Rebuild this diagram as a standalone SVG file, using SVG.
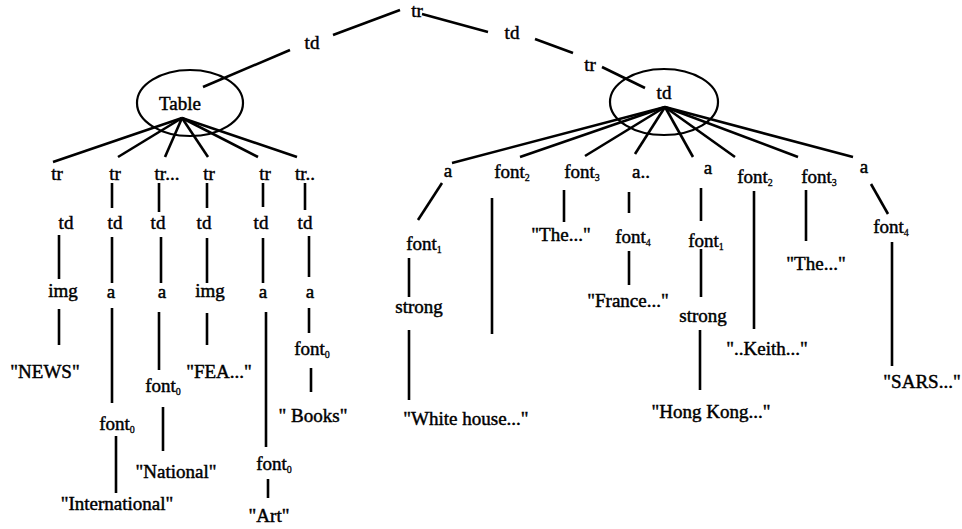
<svg xmlns="http://www.w3.org/2000/svg" width="962" height="529" viewBox="0 0 962 529">
<style>
text{font-family:'Liberation Serif','Times New Roman',serif;font-size:19px;fill:#000;text-anchor:middle;stroke:#000;stroke-width:0.45}
.sub{font-size:10px;stroke-width:0.3}
.e{fill:none;stroke:#000;stroke-width:2.2}
#edges line{stroke:#000;stroke-width:2.6;stroke-linecap:butt}
</style>
<rect width="962" height="529" fill="#fff"/>
<g id="edges">
<line x1="333" y1="35" x2="400" y2="10"/>
<line x1="422" y1="14" x2="488" y2="32"/>
<line x1="290" y1="50" x2="203" y2="87"/>
<line x1="535" y1="39" x2="573" y2="53"/>
<line x1="602" y1="67" x2="645" y2="88"/>
<line x1="182" y1="118" x2="53" y2="162"/>
<line x1="182" y1="118" x2="118" y2="157"/>
<line x1="182" y1="118" x2="165" y2="157"/>
<line x1="182" y1="118" x2="208" y2="157"/>
<line x1="182" y1="118" x2="258" y2="157"/>
<line x1="182" y1="118" x2="297" y2="157"/>
<line x1="112" y1="183" x2="112" y2="208"/>
<line x1="159" y1="183" x2="159" y2="212"/>
<line x1="207" y1="183" x2="207" y2="208"/>
<line x1="263" y1="183" x2="263" y2="207"/>
<line x1="305" y1="183" x2="305" y2="210"/>
<line x1="59" y1="235" x2="59" y2="279"/>
<line x1="112" y1="237" x2="112" y2="283"/>
<line x1="161" y1="237" x2="161" y2="283"/>
<line x1="207" y1="238" x2="207" y2="283"/>
<line x1="263" y1="238" x2="263" y2="283"/>
<line x1="309" y1="236" x2="309" y2="277"/>
<line x1="59" y1="309" x2="59" y2="345"/>
<line x1="112" y1="308" x2="112" y2="403"/>
<line x1="159" y1="312" x2="159" y2="370"/>
<line x1="207" y1="313" x2="207" y2="345"/>
<line x1="266" y1="312" x2="266" y2="447"/>
<line x1="309" y1="308" x2="309" y2="333"/>
<line x1="311" y1="368" x2="311" y2="392"/>
<line x1="163" y1="407" x2="163" y2="451"/>
<line x1="116" y1="436" x2="116" y2="493"/>
<line x1="268" y1="479" x2="268" y2="498"/>
<line x1="665" y1="107" x2="452" y2="163"/>
<line x1="665" y1="107" x2="520" y2="157"/>
<line x1="665" y1="107" x2="585" y2="156"/>
<line x1="665" y1="107" x2="635" y2="154"/>
<line x1="665" y1="107" x2="693" y2="157"/>
<line x1="665" y1="107" x2="735" y2="157"/>
<line x1="665" y1="107" x2="798" y2="157"/>
<line x1="665" y1="107" x2="853" y2="157"/>
<line x1="442" y1="183" x2="418" y2="220"/>
<line x1="409" y1="258" x2="409" y2="297"/>
<line x1="409" y1="330" x2="409" y2="400"/>
<line x1="492" y1="198" x2="492" y2="334"/>
<line x1="564" y1="190" x2="564" y2="222"/>
<line x1="629" y1="192" x2="629" y2="213"/>
<line x1="629" y1="251" x2="629" y2="285"/>
<line x1="701" y1="188" x2="701" y2="221"/>
<line x1="701" y1="249" x2="701" y2="297"/>
<line x1="700" y1="330" x2="700" y2="390"/>
<line x1="754" y1="191" x2="754" y2="329"/>
<line x1="806" y1="190" x2="806" y2="241"/>
<line x1="871" y1="184" x2="888" y2="214"/>
<line x1="892" y1="242" x2="892" y2="366"/>
</g>
<g id="n-tr-root"><text x="417" y="17">tr</text></g>
<g id="n-td-left"><text x="312" y="49">td</text></g>
<g id="n-td-right"><text x="512" y="39">td</text></g>
<g id="n-tr-right"><text x="590" y="71">tr</text></g>
<g id="n-table"><ellipse class="e" cx="190" cy="103" rx="53" ry="33"/><text x="180" y="110">Table</text></g>
<g id="n-td-main"><ellipse class="e" cx="664" cy="102" rx="54" ry="33"/><text x="664" y="99">td</text></g>
<g id="n-tr1"><text x="57" y="180">tr</text></g>
<g id="n-tr2"><text x="115" y="180">tr</text></g>
<g id="n-tr3"><text x="167" y="180">tr...</text></g>
<g id="n-tr4"><text x="209" y="180">tr</text></g>
<g id="n-tr5"><text x="265" y="180">tr</text></g>
<g id="n-tr6"><text x="305" y="180">tr..</text></g>
<g id="n-td1"><text x="66" y="229">td</text></g>
<g id="n-td2"><text x="115" y="229">td</text></g>
<g id="n-td3"><text x="158" y="229">td</text></g>
<g id="n-td4"><text x="204" y="229">td</text></g>
<g id="n-td5"><text x="261" y="229">td</text></g>
<g id="n-td6"><text x="305" y="229">td</text></g>
<g id="n-img1"><text x="63" y="297">img</text></g>
<g id="n-a2"><text x="111" y="298">a</text></g>
<g id="n-a3"><text x="162" y="298">a</text></g>
<g id="n-img4"><text x="210" y="297">img</text></g>
<g id="n-a5"><text x="263" y="298">a</text></g>
<g id="n-a6"><text x="310" y="298">a</text></g>
<g id="n-font0-6"><text x="312" y="355">font<tspan class="sub" dy="3">0</tspan></text></g>
<g id="n-news"><text x="45" y="378">"NEWS"</text></g>
<g id="n-fea"><text x="219" y="378">"FEA..."</text></g>
<g id="n-font0-3"><text x="163" y="392">font<tspan class="sub" dy="3">0</tspan></text></g>
<g id="n-books"><text x="313" y="422">" Books"</text></g>
<g id="n-font0-2"><text x="117" y="430">font<tspan class="sub" dy="3">0</tspan></text></g>
<g id="n-national"><text x="176" y="478">"National"</text></g>
<g id="n-font0-5"><text x="274" y="470">font<tspan class="sub" dy="3">0</tspan></text></g>
<g id="n-international"><text x="117" y="510">"International"</text></g>
<g id="n-art"><text x="269" y="522">"Art"</text></g>
<g id="n-ra1"><text x="448" y="177">a</text></g>
<g id="n-rfont2"><text x="512" y="178">font<tspan class="sub" dy="3">2</tspan></text></g>
<g id="n-rfont3"><text x="582" y="178">font<tspan class="sub" dy="3">3</tspan></text></g>
<g id="n-ra2"><text x="641" y="178">a..</text></g>
<g id="n-ra3"><text x="708" y="174">a</text></g>
<g id="n-rfont2b"><text x="755" y="183">font<tspan class="sub" dy="3">2</tspan></text></g>
<g id="n-rfont3b"><text x="819" y="183">font<tspan class="sub" dy="3">3</tspan></text></g>
<g id="n-ra4"><text x="864" y="173">a</text></g>
<g id="n-rfont1"><text x="424" y="250">font<tspan class="sub" dy="3">1</tspan></text></g>
<g id="n-rstrong1"><text x="419" y="313">strong</text></g>
<g id="n-white"><text x="466" y="425">"White house..."</text></g>
<g id="n-the1"><text x="561" y="241">"The..."</text></g>
<g id="n-rfont4"><text x="633" y="243">font<tspan class="sub" dy="3">4</tspan></text></g>
<g id="n-france"><text x="628" y="307">"France..."</text></g>
<g id="n-rfont1b"><text x="706" y="247">font<tspan class="sub" dy="3">1</tspan></text></g>
<g id="n-rstrong2"><text x="703" y="322">strong</text></g>
<g id="n-hongkong"><text x="711" y="418">"Hong Kong..."</text></g>
<g id="n-keith"><text x="767" y="355">"..Keith..."</text></g>
<g id="n-the2"><text x="816" y="270">"The..."</text></g>
<g id="n-rfont4b"><text x="891" y="233">font<tspan class="sub" dy="3">4</tspan></text></g>
<g id="n-sars"><text x="922" y="388">"SARS..."</text></g>
</svg>
